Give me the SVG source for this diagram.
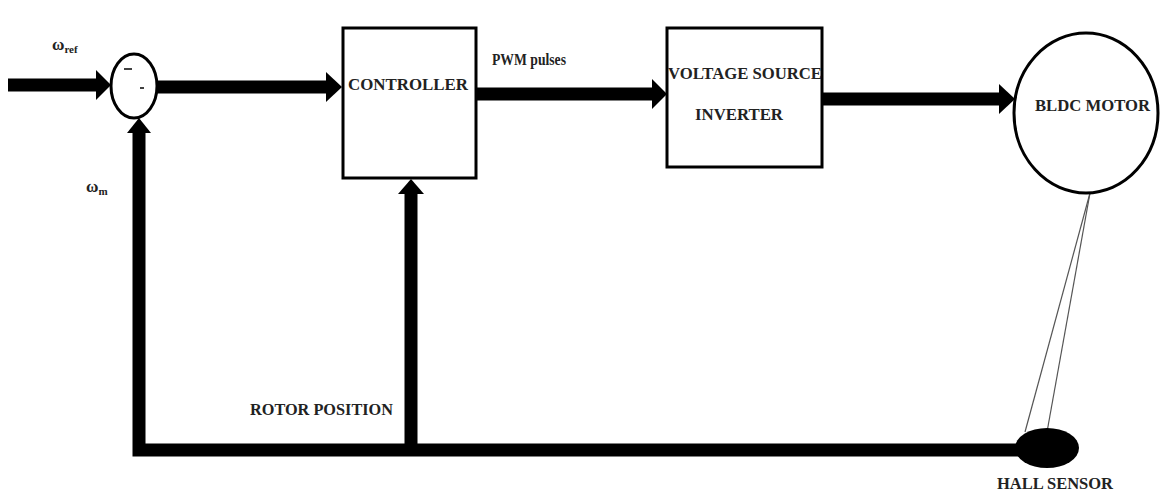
<svg xmlns="http://www.w3.org/2000/svg" width="1161" height="497" viewBox="0 0 1161 497">
<style>
.t{font-family:"Liberation Serif","Times New Roman",serif;font-weight:bold;fill:#222;}
.box{fill:#fff;stroke:#000;stroke-width:3;}
.w{stroke:#000;stroke-width:13;fill:none;}
.h{fill:#000;}
.thin{stroke:#555;stroke-width:1.2;fill:none;}
</style>
<rect width="1161" height="497" fill="#fff"/>
<g id="connectors">
  <line class="w" x1="8" y1="85" x2="100" y2="85"/>
  <polygon class="h" points="96,70 111,85 96,100"/>
  <line class="w" x1="158" y1="87" x2="330" y2="87"/>
  <polygon class="h" points="326,72 342,87 326,102"/>
  <line class="w" x1="476" y1="94" x2="656" y2="94"/>
  <polygon class="h" points="652,79 667,94 652,109"/>
  <line class="w" x1="823" y1="99" x2="1003" y2="99"/>
  <polygon class="h" points="999,84 1015,99 999,114"/>
  <polyline class="w" points="1020,450 139,450 139,130"/>
  <polygon class="h" points="127,133 139,118 151,133"/>
  <line class="w" x1="411" y1="450" x2="411" y2="190"/>
  <polygon class="h" points="398,194 411,179 424,194"/>
  <line class="thin" x1="1090" y1="193" x2="1025" y2="432"/>
  <line class="thin" x1="1090" y1="193" x2="1047" y2="432"/>
</g>
<g id="sum">
  <ellipse cx="134" cy="86" rx="23" ry="32" fill="#fff" stroke="#000" stroke-width="3"/>
  <line x1="124" y1="69" x2="132" y2="69" stroke="#000" stroke-width="1.5"/>
  <line x1="140" y1="88" x2="144" y2="88" stroke="#000" stroke-width="1.5"/>
</g>
<g id="controller">
  <rect class="box" x="343" y="28" width="133" height="150"/>
  <text class="t" x="348" y="90" font-size="17" textLength="120" lengthAdjust="spacingAndGlyphs">CONTROLLER</text>
</g>
<g id="vsi">
  <rect class="box" x="667" y="28" width="155" height="139"/>
  <text class="t" x="668" y="79" font-size="17" textLength="154" lengthAdjust="spacingAndGlyphs">VOLTAGE SOURCE</text>
  <text class="t" x="695" y="120" font-size="17" textLength="88" lengthAdjust="spacingAndGlyphs">INVERTER</text>
</g>
<g id="motor">
  <ellipse cx="1086" cy="113" rx="72" ry="80" fill="#fff" stroke="#000" stroke-width="3"/>
  <text class="t" x="1035" y="111" font-size="17" textLength="115" lengthAdjust="spacingAndGlyphs">BLDC MOTOR</text>
</g>
<g id="hall">
  <ellipse cx="1047" cy="448" rx="32" ry="20" fill="#000"/>
  <text class="t" x="997" y="489" font-size="16" textLength="116" lengthAdjust="spacingAndGlyphs">HALL SENSOR</text>
</g>
<g id="labels">
  <text class="t" x="492" y="65" font-size="17" textLength="74" lengthAdjust="spacingAndGlyphs">PWM  pulses</text>
  <text class="t" x="250" y="415" font-size="17" textLength="143" lengthAdjust="spacingAndGlyphs">ROTOR POSITION</text>
  <text class="t" x="52" y="50" font-size="17">ω<tspan font-size="11" dy="3">ref</tspan></text>
  <text class="t" x="86" y="192" font-size="17">ω<tspan font-size="11" dy="3">m</tspan></text>
</g>
</svg>
